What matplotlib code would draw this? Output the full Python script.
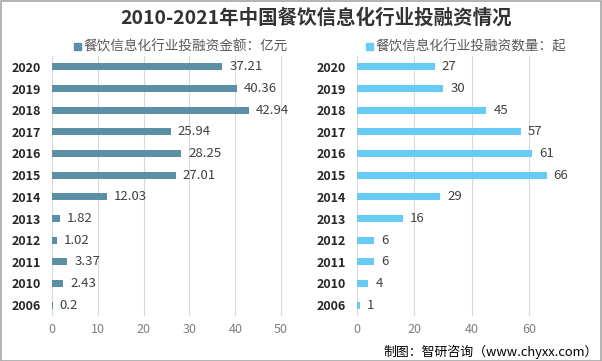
import matplotlib
matplotlib.use("Agg")
import matplotlib.pyplot as plt
from matplotlib.patches import Rectangle

plt.rcParams['font.family'] = ['Noto Sans CJK SC', 'DejaVu Sans']

years = ["2020", "2019", "2018", "2017", "2016", "2015", "2014", "2013", "2012", "2011", "2010", "2006"]
amount = [37.21, 40.36, 42.94, 25.94, 28.25, 27.01, 12.03, 1.82, 1.02, 3.37, 2.43, 0.2]
amount_labels = ["37.21", "40.36", "42.94", "25.94", "28.25", "27.01", "12.03", "1.82", "1.02", "3.37", "2.43", "0.2"]
count = [27, 30, 45, 57, 61, 66, 29, 16, 6, 6, 4, 1]

W, H = 602, 361
fig = plt.figure(figsize=(W / 100, H / 100), dpi=100)
fig.patch.set_facecolor("white")


def px_axes(x0, x1, y0, y1):
    return fig.add_axes([x0 / W, 1 - y1 / H, (x1 - x0) / W, (y1 - y0) / H])


def draw_panel(ax, values, labels, color, xmax, step, pad):
    pos = list(range(len(years)))[::-1]
    ax.barh(pos, values, height=0.33, color=color, zorder=3)
    for p, v, lab in zip(pos, values, labels):
        ax.text(v + pad, p, lab, va="center", ha="left", fontsize=9.5, color="#404040", zorder=4)
    ax.set_yticks(pos)
    ax.set_yticklabels(years, fontsize=9, fontweight="bold", color="#262626")
    ax.set_xlim(0, xmax)
    ax.set_ylim(-0.5, len(years) - 0.5)
    ax.set_xticks(range(0, xmax, step))
    ax.tick_params(axis="x", colors="#7f7f7f", labelsize=9, length=0, pad=5)
    ax.tick_params(axis="y", length=0, pad=8)
    ax.grid(axis="x", color="#d9d9d9", linewidth=0.8, zorder=0)
    for s in ax.spines.values():
        s.set_visible(False)


ax1 = px_axes(52, 304, 56, 316)
draw_panel(ax1, amount, amount_labels, "#5b8fa6", 55, 10, 1.5)

ax2 = px_axes(357, 558, 56, 316)
draw_panel(ax2, count, [str(c) for c in count], "#66ccf5", 70, 20, 2.5)

fig.text(0.525, 1 - 18 / H, "2010-2021年中国餐饮信息化行业投融资情况", ha="center", va="center",
         fontsize=14, fontweight="bold", color="#333333")

# legends
fig.patches.append(Rectangle((74 / W, 1 - 50 / H), 7 / W, 7 / H, transform=fig.transFigure,
                             color="#5b8fa6", figure=fig))
fig.text(84 / W, 1 - 46 / H, "餐饮信息化行业投融资金额：亿元", ha="left", va="center", fontsize=9.8, color="#595959")
fig.patches.append(Rectangle((366 / W, 1 - 50 / H), 7 / W, 7 / H, transform=fig.transFigure,
                             color="#66ccf5", figure=fig))
fig.text(376 / W, 1 - 46 / H, "餐饮信息化行业投融资数量：起", ha="left", va="center", fontsize=9.8, color="#595959")

fig.text(598 / W, 1 - 352 / H, "制图：智研咨询（www.chyxx.com）", ha="right", va="center", fontsize=9.3, color="#000000")

fig.patches.append(Rectangle((0.5 / W, 0.5 / H), (W - 1.5) / W, (H - 1.5) / H, transform=fig.transFigure,
                             fill=False, edgecolor="#a6a6a6", linewidth=1.2, figure=fig))

fig.savefig("out.png", dpi=100)
